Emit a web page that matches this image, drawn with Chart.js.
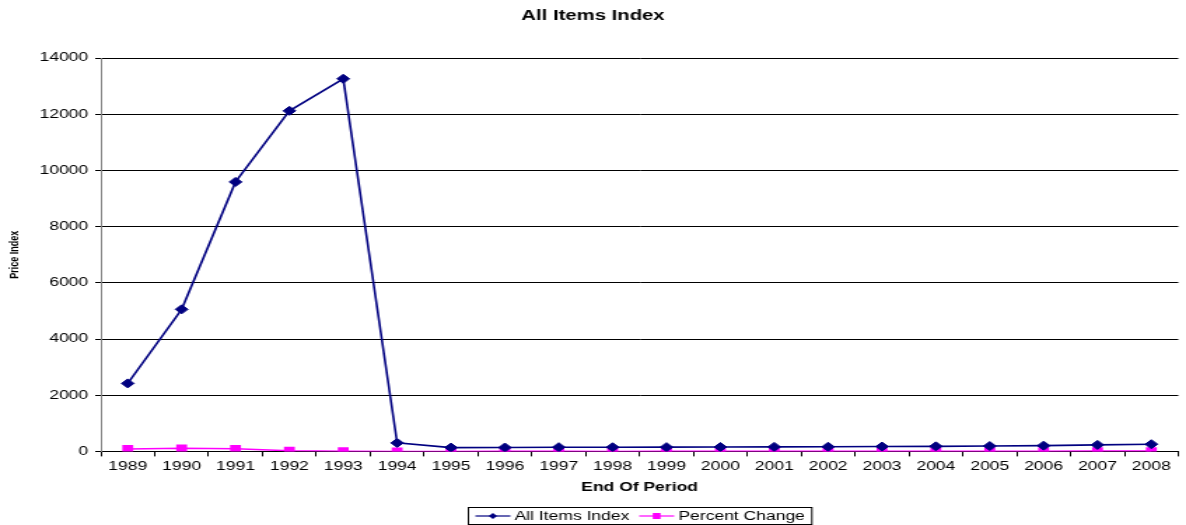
<!DOCTYPE html>
<html>
<head>
<meta charset="utf-8">
<script src="https://cdn.jsdelivr.net/npm/chart.js@4.4.0/dist/chart.umd.min.js"></script>
<style>
  html, body { margin: 0; padding: 0; background: #fff; overflow: hidden; }
  #wrap { width: 1186px; height: 525px; overflow: hidden; }
  /* the chart is drawn on a narrower canvas and widened horizontally */
  #c { display: block; width: 847px; height: 525px; transform: scaleX(1.40024); transform-origin: 0 0; }
</style>
</head>
<body>
<div id="wrap"><canvas id="c" width="847" height="525"></canvas></div>
<script>
const years = ['1989','1990','1991','1992','1993','1994','1995','1996','1997','1998',
               '1999','2000','2001','2002','2003','2004','2005','2006','2007','2008'];
const allItemsIndex = [2420, 5055, 9590, 12120, 13260, 303, 135, 138, 150, 148,
                       152, 155, 160, 165, 172, 180, 190, 205, 232, 256];
const percentChange = [85, 109, 90, 26, 9, 0, 0, 2, 9, 0,
                       3, 2, 3, 3, 4, 5, 6, 8, 13, 10];
const yMin = 0, yMax = 14000, yStep = 2000;

const FONT = "'Liberation Sans', Arial, Helvetica, sans-serif";
const NAVY = '#000080';
const MAGENTA = '#FF00FF';

// boxed legend under the x-axis title: short line with the series marker, then the label
const boxedLegend = {
  id: 'boxedLegend',
  afterDraw(chart) {
    const ctx = chart.ctx;
    const ds = chart.data.datasets;
    ctx.save();
    ctx.font = '12.5px ' + FONT;
    const sample = 25, gapAfterSample = 3, gapBetween = 7, pad = 5;
    const widths = ds.map(d => ctx.measureText(d.label).width);
    let total = pad * 2;
    widths.forEach((w, i) => { total += sample + gapAfterSample + w + (i < ds.length - 1 ? gapBetween : 0); });
    const cx = (chart.chartArea.left + chart.chartArea.right) / 2;
    const left = Math.round(cx - total / 2) + 0.5;
    const top = 507.5, h = 17;
    ctx.strokeStyle = '#000';
    ctx.lineWidth = 1;
    ctx.strokeRect(left, top, total, h);
    const cy = top + h / 2;
    let x = left + pad;
    ds.forEach((d, i) => {
      ctx.strokeStyle = d.borderColor;
      ctx.lineWidth = 1.2;
      ctx.beginPath();
      ctx.moveTo(x, cy);
      ctx.lineTo(x + sample, cy);
      ctx.stroke();
      const mx = x + sample / 2;
      ctx.fillStyle = d.backgroundColor;
      ctx.beginPath();
      if (d.pointStyle === 'rectRot') {
        const r = 3;
        ctx.moveTo(mx, cy - r); ctx.lineTo(mx + r, cy); ctx.lineTo(mx, cy + r); ctx.lineTo(mx - r, cy);
        ctx.closePath();
      } else {
        ctx.rect(mx - 2.8, cy - 3, 5.6, 6);
      }
      ctx.fill();
      x += sample + gapAfterSample;
      ctx.fillStyle = '#000';
      ctx.textBaseline = 'middle';
      ctx.textAlign = 'left';
      ctx.fillText(d.label, x, cy + 0.5);
      x += widths[i] + gapBetween;
    });
    ctx.restore();
  }
};

new Chart(document.getElementById('c'), {
  type: 'line',
  data: {
    labels: years,
    datasets: [
      {
        label: 'All Items Index',
        data: allItemsIndex,
        borderColor: NAVY,
        backgroundColor: NAVY,
        borderWidth: 1.6,
        pointStyle: 'rectRot',
        pointRadius: 4.5,
        pointBorderWidth: 1,
        pointBackgroundColor: NAVY,
        pointBorderColor: NAVY,
        tension: 0
      },
      {
        label: 'Percent Change',
        data: percentChange,
        borderColor: MAGENTA,
        backgroundColor: MAGENTA,
        borderWidth: 1.5,
        pointStyle: 'rect',
        pointRadius: 5.5,
        pointBorderWidth: 0,
        pointBackgroundColor: MAGENTA,
        pointBorderColor: MAGENTA,
        tension: 0
      }
    ]
  },
  options: {
    responsive: false,
    animation: false,
    devicePixelRatio: 1,
    layout: { padding: { top: 0, left: 0, right: 0, bottom: 0 } },
    plugins: {
      legend: { display: false },
      tooltip: { enabled: false },
      title: {
        display: true,
        text: 'All Items Index',
        color: '#000',
        font: { family: FONT, size: 14.5, weight: 'bold' },
        padding: { top: 7, bottom: 33.6 }
      }
    },
    scales: {
      x: {
        type: 'category',
        offset: true,
        afterFit: s => { s.height = 73.6; },
        grid: { display: true, drawOnChartArea: false, drawTicks: true, tickLength: 5, color: '#000', offset: true },
        border: { display: true, color: '#000', width: 1 },
        ticks: { color: '#000', font: { family: FONT, size: 12.5 }, padding: 3, maxRotation: 0, autoSkip: false },
        title: {
          display: true,
          text: 'End Of Period',
          color: '#000',
          font: { family: FONT, size: 12.5, weight: 'bold' },
          padding: { top: 0, bottom: 29.5 }
        }
      },
      y: {
        min: yMin,
        max: yMax,
        afterFit: s => { s.width = 72; },
        grid: { color: '#000', lineWidth: 1, drawTicks: true, tickLength: 4 },
        border: { display: true, color: '#808080', width: 1 },
        ticks: {
          stepSize: yStep,
          color: '#000',
          font: { family: FONT, size: 12.5 },
          padding: 5,
          callback: v => String(v)
        },
        title: {
          display: true,
          text: 'Price Index',
          color: '#000',
          font: { family: FONT, size: 9, weight: 'bold' },
          padding: { top: 5, bottom: 0 }
        }
      }
    }
  },
  plugins: [boxedLegend]
});
</script>
</body>
</html>
